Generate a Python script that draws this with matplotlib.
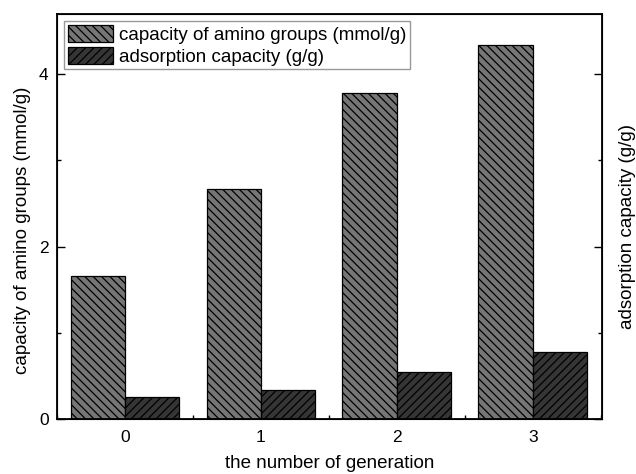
import matplotlib
matplotlib.use("Agg")
import matplotlib.pyplot as plt
from matplotlib.ticker import MultipleLocator
import numpy as np

plt.rcParams["font.family"] = ["Liberation Sans", "DejaVu Sans"]
plt.rcParams["hatch.linewidth"] = 0.9

generations = [0, 1, 2, 3]
amino_capacity = [1.66, 2.67, 3.78, 4.34]      # mmol/g
adsorption_capacity = [0.26, 0.34, 0.55, 0.78]  # g/g (drawn on same scale)

fig = plt.figure(figsize=(6.36, 4.74), dpi=100)
ax = fig.add_axes([0.0896, 0.116, 0.857, 0.8545])

x = np.arange(len(generations))
w = 0.4
ax.bar(x - w / 2, amino_capacity, w, color="#767676", edgecolor="black",
       hatch="\\\\\\\\", linewidth=0.9, label="capacity of amino groups (mmol/g)")
ax.bar(x + w / 2, adsorption_capacity, w, color="#353535", edgecolor="black",
       hatch="////", linewidth=0.9, label="adsorption capacity (g/g)")

ax.set_xlim(-0.5, 3.51)
ax.set_ylim(0, 4.7)
ax.set_xticks(x)
ax.set_xticklabels([str(g) for g in generations])
ax.xaxis.set_minor_locator(MultipleLocator(0.5))
ax.yaxis.set_major_locator(MultipleLocator(2))
ax.yaxis.set_minor_locator(MultipleLocator(1))
ax.tick_params(which="both", direction="in", labelsize=12.5, width=1.0)
ax.tick_params(which="major", length=6)
ax.tick_params(which="minor", length=3)
ax.tick_params(axis="x", which="major", length=0, pad=8)
ax.tick_params(axis="y", which="major", pad=6)
for s in ax.spines.values():
    s.set_linewidth(1.3)

ax2 = ax.twinx()
ax2.set_ylim(ax.get_ylim())
ax2.yaxis.set_major_locator(MultipleLocator(2))
ax2.yaxis.set_minor_locator(MultipleLocator(1))
ax2.tick_params(which="both", direction="in", labelright=False, width=1.0)
ax2.tick_params(which="major", length=6)
ax2.tick_params(which="minor", length=3)
ax2.set_ylabel("adsorption capacity (g/g)", fontsize=13.5, labelpad=12)
ax2.yaxis.label.set_y(0.475)

ax.set_xlabel("the number of generation", fontsize=13.5, labelpad=7)
ax.set_ylabel("capacity of amino groups (mmol/g)", fontsize=13.5, labelpad=6)
ax.yaxis.label.set_y(0.467)

leg = ax.legend(loc="upper left", fontsize=13.5, fancybox=False, framealpha=1,
                edgecolor="#999999", handlelength=2.4, handleheight=1.0,
                borderpad=0.2, labelspacing=0.15, handletextpad=0.3,
                borderaxespad=0.4)
leg.get_frame().set_linewidth(1.0)

fig.savefig("out.png", dpi=100)
